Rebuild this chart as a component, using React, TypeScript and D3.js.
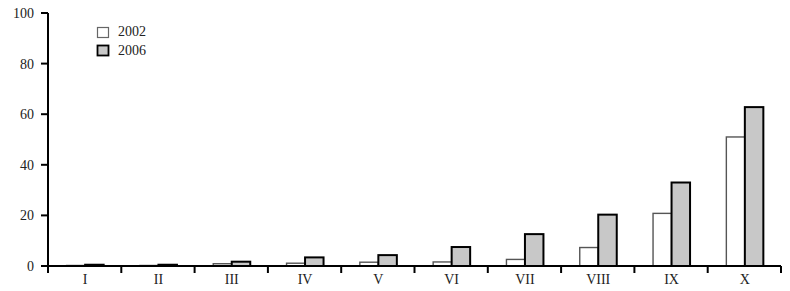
import React from "react";
import * as d3 from "d3";

const categories = ["I", "II", "III", "IV", "V", "VI", "VII", "VIII", "IX", "X"];
const values2002 = [0.2, 0.2, 0.9, 1.1, 1.5, 1.6, 2.6, 7.3, 20.8, 51];
const values2006 = [0.5, 0.5, 1.7, 3.4, 4.3, 7.5, 12.6, 20.3, 33, 62.8];
const yTicks = [0, 20, 40, 60, 80, 100];
const seriesNames = ["2002", "2006"];

export default function App() {
  const W = 790, H = 291;
  const left = 48, right = 781, top = 13, bottom = 266;
  const x = d3.scaleBand<string>().domain(categories).range([left, right]).paddingInner(0).paddingOuter(0);
  const y = d3.scaleLinear().domain([0, 100]).range([bottom, top]);
  const barW = 18.5;
  const font = "'Liberation Serif', 'DejaVu Serif', serif";
  return (
    <svg width={W} height={H} style={{ position: "absolute", left: 0, top: 0 }}>
      <rect width={W} height={H} fill="#fff" />
      {categories.map((c, i) => {
        const cx = (x(c) as number) + x.bandwidth() / 2 + 0.5;
        return (
          <g key={c}>
            <rect x={cx - barW} y={y(values2002[i])} width={barW} height={bottom - y(values2002[i])}
              fill="#fff" stroke="#555" strokeWidth={1.4} />
            <rect x={cx} y={y(values2006[i])} width={barW} height={bottom - y(values2006[i])}
              fill="#c8c8c8" stroke="#000" strokeWidth={2} />
            <text x={cx} y={284} textAnchor="middle" fontFamily={font} fontSize={14} fill="#222">{c}</text>
          </g>
        );
      })}
      <line x1={left} x2={left} y1={top} y2={bottom} stroke="#000" strokeWidth={2} />
      <line x1={left - 1} x2={right} y1={bottom} y2={bottom} stroke="#000" strokeWidth={2} />
      {[...categories.map((c) => x(c) as number), right].map((t, i) => (
        <line key={i} x1={t} x2={t} y1={bottom} y2={bottom + 7} stroke="#000" strokeWidth={2} />
      ))}
      {yTicks.map((t) => (
        <g key={t}>
          <line x1={left - 7} x2={left} y1={y(t)} y2={y(t)} stroke="#000" strokeWidth={2} />
          <text x={34} y={y(t) + 5} textAnchor="end" fontFamily={font} fontSize={14} fill="#222">{t}</text>
        </g>
      ))}
      <g>
        <rect x={97.5} y={27.5} width={11} height={10} fill="#fff" stroke="#666" strokeWidth={1.2} />
        <text x={118} y={36} fontFamily={font} fontSize={14} fill="#222">{seriesNames[0]}</text>
        <rect x={97.5} y={45.5} width={11} height={10} fill="#c8c8c8" stroke="#000" strokeWidth={1.8} />
        <text x={118} y={55} fontFamily={font} fontSize={14} fill="#222">{seriesNames[1]}</text>
      </g>
    </svg>
  );
}
